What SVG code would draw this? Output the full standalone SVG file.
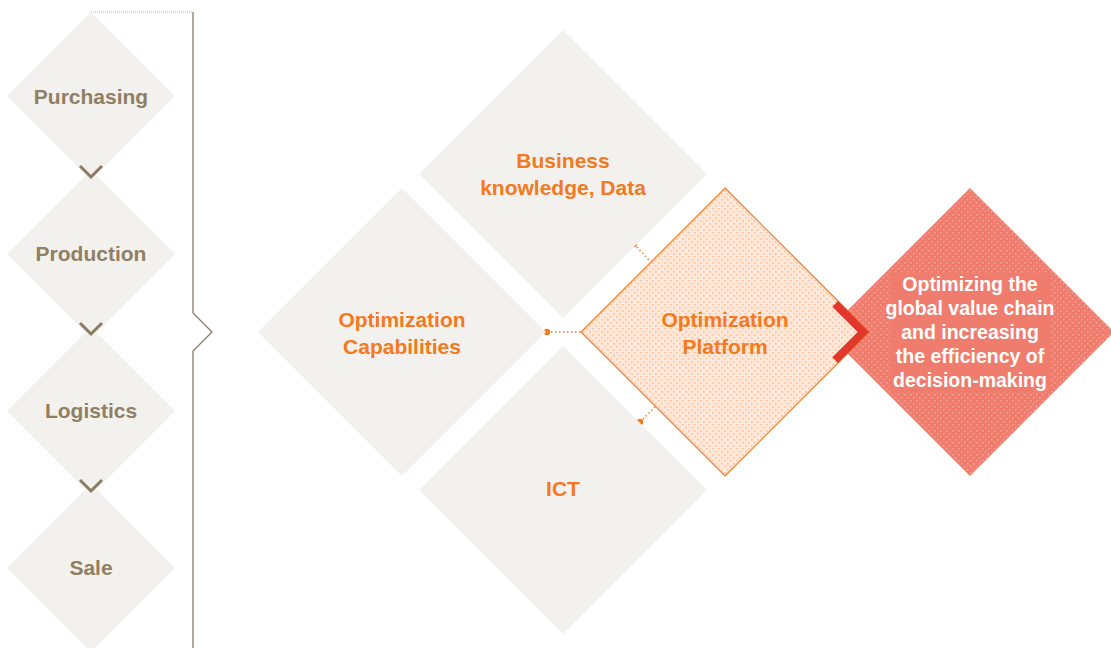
<svg xmlns="http://www.w3.org/2000/svg" width="1111" height="648" viewBox="0 0 1111 648">
  <defs>
    <pattern id="dotsPeach" width="6" height="6" patternUnits="userSpaceOnUse">
      <rect width="6" height="6" fill="#fde8da"/>
      <rect x="1" y="1" width="1.6" height="1.6" fill="#f9c29c"/>
      <rect x="4" y="4" width="1.6" height="1.6" fill="#f9c29c"/>
    </pattern>
    <pattern id="dotsRed" width="6" height="6" patternUnits="userSpaceOnUse">
      <rect width="6" height="6" fill="#ef7c6c"/>
      <rect x="1" y="1" width="1.5" height="1.5" fill="#f5a294"/>
      <rect x="4" y="4" width="1.5" height="1.5" fill="#f5a294"/>
    </pattern>
    <style>
      .stage { fill: #f2f1ee; }
      .stageText { font-family: "Liberation Sans", Arial, sans-serif; font-weight: 700; font-size: 21px; fill: #8f7f63; text-anchor: middle; }
      .pillarText { font-family: "Liberation Sans", Arial, sans-serif; font-weight: 700; font-size: 21px; fill: #f47920; text-anchor: middle; }
      .goalText { font-family: "Liberation Sans", Arial, sans-serif; font-weight: 700; font-size: 19.5px; fill: #ffffff; text-anchor: middle; }
      .chev { fill: none; stroke: #8c7b62; stroke-width: 3; }
      .link { fill: none; stroke: #f47920; stroke-width: 1.4; stroke-dasharray: 1.5 2.5; }
      .dot { fill: #f47920; }
    </style>
  </defs>

  <!-- value chain stages -->
  <g id="purchasing">
    <polygon class="stage" points="91,12 175,96 91,180 7,96"/>
    <text class="stageText" x="91" y="104">Purchasing</text>
  </g>
  <g id="production">
    <polygon class="stage" points="91,170 175,254 91,338 7,254"/>
    <text class="stageText" x="91" y="261">Production</text>
  </g>
  <g id="logistics">
    <polygon class="stage" points="91,327 175,411 91,495 7,411"/>
    <text class="stageText" x="91" y="418">Logistics</text>
  </g>
  <g id="sale">
    <polygon class="stage" points="91,484 175,568 91,652 7,568"/>
    <text class="stageText" x="91" y="575">Sale</text>
  </g>

  <!-- bracket and flow chevrons -->
  <g id="connectors">
    <line x1="91" y1="12" x2="193" y2="12" stroke="#b8ad9c" stroke-width="1" stroke-dasharray="1 1"/>
    <polyline points="193,12 193,313 212,332 193,351 193,648" fill="none" stroke="#8c7b62" stroke-width="1.3"/>
    <polyline class="chev" points="80,166 91,177 102,166"/>
    <polyline class="chev" points="80,323 91,334 102,323"/>
    <polyline class="chev" points="80,480 91,491 102,480"/>

    <line class="link" x1="634" y1="244" x2="650" y2="261"/>
    <line class="link" x1="547" y1="332" x2="581" y2="332"/>
    <line class="link" x1="640" y1="422" x2="656" y2="406"/>
    <circle class="dot" cx="634" cy="244" r="3.2"/>
    <circle class="dot" cx="547" cy="332" r="3.2"/>
    <circle class="dot" cx="640" cy="422" r="3.2"/>
  </g>

  <!-- pillars -->
  <g id="business">
    <polygon class="stage" points="563,30 707,174 563,318 419,174"/>
    <text class="pillarText" x="563" y="168">Business</text>
    <text class="pillarText" x="563" y="195">knowledge, Data</text>
  </g>
  <g id="capabilities">
    <polygon class="stage" points="402,188 546,332 402,476 258,332"/>
    <text class="pillarText" x="402" y="327">Optimization</text>
    <text class="pillarText" x="402" y="354">Capabilities</text>
  </g>
  <g id="ict">
    <polygon class="stage" points="563,346 707,490 563,634 419,490"/>
    <text class="pillarText" x="563" y="496">ICT</text>
  </g>

  <!-- outcome -->
  <g id="goal">
    <polygon points="970,188 1114,332 970,476 826,332" fill="url(#dotsRed)"/>
    <rect x="890" y="274" width="160" height="118" fill="#ef7c6c"/>
    <text class="goalText" x="970" y="291">Optimizing the</text>
    <text class="goalText" x="970" y="315">global value chain</text>
    <text class="goalText" x="970" y="339">and increasing</text>
    <text class="goalText" x="970" y="363">the efficiency of</text>
    <text class="goalText" x="970" y="387">decision-making</text>
  </g>

  <!-- platform -->
  <g id="platform">
    <polygon points="725,188 869,332 725,476 581,332" fill="url(#dotsPeach)" stroke="#f47920" stroke-width="1.2"/>
    <polygon points="838,301 869,332 838,363 832.3,357.3 857.7,332 832.3,306.7" fill="#e2382c"/>
    <text class="pillarText" x="725" y="327">Optimization</text>
    <text class="pillarText" x="725" y="354">Platform</text>
  </g>
</svg>
